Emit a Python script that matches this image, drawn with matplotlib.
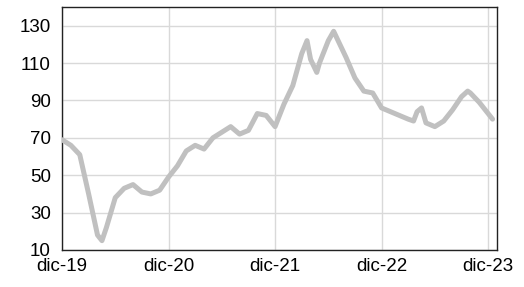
import matplotlib.pyplot as plt

# meses desde dic-19
meses = [0, 1, 2, 3, 4, 4.5, 5, 6, 7, 8, 9, 10, 11, 12, 13, 14, 15, 16, 17, 18,
         19, 20, 21, 22, 23, 24, 25, 26, 27, 27.6, 28, 28.7, 29, 30, 30.6, 31, 32,
         33, 34, 35, 36, 37, 38, 39, 39.6, 40, 40.5, 41, 42, 43, 44, 45, 45.7,
         46, 47, 48, 48.5]
valores = [69, 66, 61, 40, 18, 15, 22, 38, 43, 45, 41, 40, 42, 49, 55, 63, 66, 64,
           70, 73, 76, 72, 74, 83, 82, 76, 88, 98, 115, 122, 112, 105, 110, 122,
           127, 123, 113, 102, 95, 94, 86, 84, 82, 80, 79, 84, 86, 78, 76, 79, 85,
           92, 95, 94, 89, 83, 80]

etiquetas_x = ['dic-19', 'dic-20', 'dic-21', 'dic-22', 'dic-23']
pos_x = [0, 12, 24, 36, 48]
ticks_y = [10, 30, 50, 70, 90, 110, 130]

plt.rcParams['font.family'] = ['Liberation Sans', 'DejaVu Sans']

fig = plt.figure(figsize=(5.24, 2.87), dpi=100)
ax = fig.add_axes([62 / 524, 1 - 250 / 287, 435 / 524, 243 / 287])

ax.plot(meses, valores, color='#c0c0c0', linewidth=3.6,
        solid_joinstyle='round', solid_capstyle='round', zorder=3)

ax.set_xlim(0, 49)
ax.set_ylim(10, 140)
ax.set_xticks(pos_x)
ax.set_xticklabels(etiquetas_x)
ax.set_yticks(ticks_y)
ax.grid(True, color='#d9d9d9', linewidth=1)
ax.tick_params(length=0, labelsize=13.5)
ax.tick_params(axis='x', pad=6)
ax.tick_params(axis='y', pad=8)
for s in ax.spines.values():
    s.set_color('#222222')
    s.set_linewidth(1)

fig.savefig('out.png', dpi=100)
